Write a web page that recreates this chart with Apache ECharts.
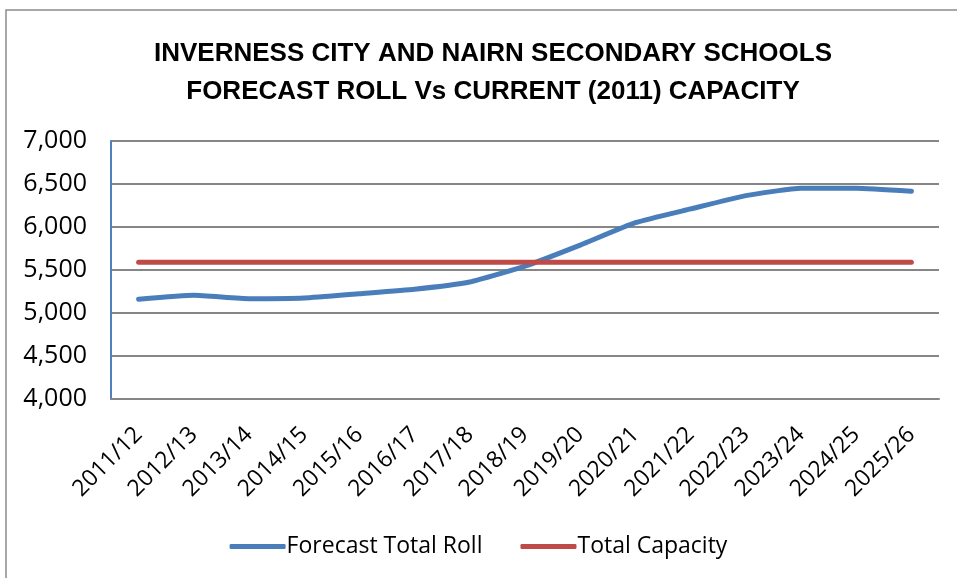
<!DOCTYPE html>
<html>
<head>
<meta charset="utf-8">
<script src="https://cdn.jsdelivr.net/npm/echarts@6/dist/echarts.min.js"></script>
<style>
  html, body { margin: 0; padding: 0; background: #fff; }
  #main { width: 957px; height: 578px; }
</style>
</head>
<body>
<div id="main"></div>
<script>
// 学年
var years = ['2011/12', '2012/13', '2013/14', '2014/15', '2015/16', '2016/17', '2017/18', '2018/19',
  '2019/20', '2020/21', '2021/22', '2022/23', '2023/24', '2024/25', '2025/26'];
// 预测总人数
var forecastRoll = [5160, 5205, 5167, 5175, 5225, 5276, 5360, 5545, 5790, 6050, 6210, 6365, 6450, 6450, 6415];
// 总容量
var totalCapacity = [5590, 5590, 5590, 5590, 5590, 5590, 5590, 5590, 5590, 5590, 5590, 5590, 5590, 5590, 5590];

var titleFont = '"Liberation Sans", sans-serif';
var labelFont = '"Open Sans", "Liberation Sans", sans-serif';

var chart = echarts.init(document.getElementById('main'));
var option = {
  animation: false,
  backgroundColor: '#fff',
  graphic: [{
    type: 'rect',
    shape: { x: 6, y: 10, width: 980, height: 600 },
    style: { fill: 'none', stroke: '#8c8c8c', lineWidth: 1.5 },
    silent: true
  }],
  title: {
    text: 'INVERNESS CITY AND NAIRN SECONDARY SCHOOLS\nFORECAST ROLL Vs CURRENT (2011) CAPACITY',
    left: 488,
    top: 30,
    textAlign: 'center',
    textStyle: {
      fontFamily: titleFont,
      fontWeight: 'bold',
      fontSize: 26,
      lineHeight: 38,
      color: '#000'
    }
  },
  legend: {
    bottom: 15,
    left: 'center',
    itemWidth: 56,
    itemHeight: 5,
    itemGap: 38,
    icon: 'roundRect',
    textStyle: { fontFamily: labelFont, fontSize: 23, color: '#000', padding: [0, 0, 0, -4] },
    data: ['Forecast Total Roll', 'Total Capacity']
  },
  grid: { left: 111, right: 18, top: 141, bottom: 179 },
  xAxis: {
    type: 'category',
    data: years,
    boundaryGap: true,
    axisLine: { lineStyle: { color: '#868686', width: 2 } },
    axisTick: { show: false },
    axisLabel: {
      rotate: 45,
      interval: 0,
      margin: 32,
      fontFamily: labelFont,
      fontSize: 23,
      color: '#000'
    }
  },
  yAxis: {
    type: 'value',
    min: 4000,
    max: 7000,
    interval: 500,
    axisLine: { show: true, lineStyle: { color: '#4f81bd', width: 2 } },
    axisTick: { show: false },
    splitLine: { lineStyle: { color: '#868686', width: 2 } },
    axisLabel: {
      margin: 24,
      fontFamily: labelFont,
      fontSize: 25,
      color: '#000',
      formatter: function (v) { return v.toLocaleString('en-US'); }
    }
  },
  series: [
    {
      name: 'Forecast Total Roll',
      type: 'line',
      data: forecastRoll,
      smooth: 0.15,
      symbol: 'none',
      color: '#4a7ebb',
      lineStyle: { width: 5, cap: 'round', join: 'round' }
    },
    {
      name: 'Total Capacity',
      type: 'line',
      data: totalCapacity,
      symbol: 'none',
      color: '#be4b48',
      lineStyle: { width: 5, cap: 'round' }
    }
  ]
};
chart.setOption(option);
</script>
</body>
</html>
